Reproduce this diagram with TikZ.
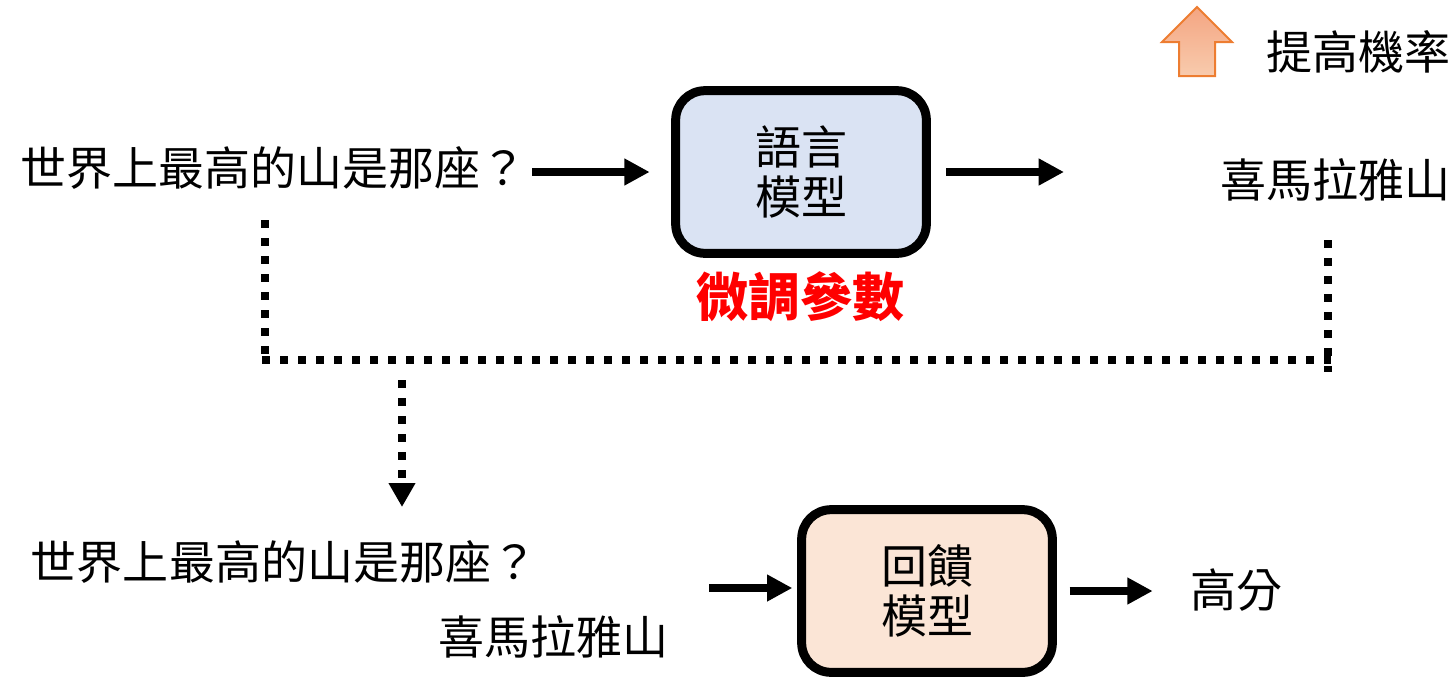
\documentclass[tikz,border=0pt]{standalone}
\usepackage{fontspec}
\newfontfamily\cjk{Noto Sans CJK TC}
\usetikzlibrary{arrows.meta}
\definecolor{lmfill}{HTML}{DAE3F3}
\definecolor{fbfill}{HTML}{FBE5D6}
\definecolor{orngline}{HTML}{ED7D31}
\definecolor{orngtop}{HTML}{F4A582}
\definecolor{orngbot}{HTML}{F8CBAD}
\definecolor{redtxt}{HTML}{FF0000}
\begin{document}
\begin{tikzpicture}[x=0.75pt,y=-0.75pt,
  txt/.style={inner sep=0pt, outer sep=0pt, font=\cjk\fontsize{34.5pt}{37.5pt}\selectfont},
  modelbox/.style={txt, draw=black, line width=6.75pt, rounded corners=22pt,
    minimum width=188pt, minimum height=122pt, align=center},
  arr/.style={line width=6pt, -{Triangle[length=19pt,width=19pt]}},
  dots/.style={line width=5.8pt, dash pattern=on 5.8pt off 7.7pt},
]
\useasboundingbox (0,0) rectangle (1452,686);
% top row
\node[txt] (q1) at (273,168) {世界上最高的山是那座？};
\node[modelbox, fill=lmfill] (lm) at (801,172) {語言\\模型};
\node[txt] (ans1) at (1335,180) {喜馬拉雅山};
\node[txt] (rate) at (1358,52) {提高機率};
\node[txt, font=\cjk\bfseries\fontsize{39pt}{40pt}\selectfont, text=redtxt] (tune) at (800,297) {微調參數};
% orange up arrow
\draw[orngline, line width=1.5pt, top color=orngtop, bottom color=orngbot]
  (1197,7) -- (1232,42) -- (1215,42) -- (1215,76) -- (1179,76) -- (1179,42) -- (1162,42) -- cycle;
% arrows top
\coordinate (a1) at (532,172);
\coordinate (a2) at (1064,172);
\draw[arr, shorten >=19.5pt] (a1) -- (a1 -| lm.west);
\draw[arr, shorten <=15pt] (a2 -| lm.east) -- (a2);
% dotted connectors
\coordinate (d1) at (265,220);
\coordinate (d2) at (265,360);
\coordinate (d3) at (262,360);
\coordinate (d4) at (1331,360);
\coordinate (d5) at (1328,240);
\coordinate (d6) at (1328,372);
\coordinate (d7) at (402,380);
\coordinate (d8) at (402,507);
\draw[dots] (d1) -- (d2);
\draw[dots] (d3) -- (d4);
\draw[dots] (d5) -- (d6);
\draw[dots, -{Triangle[length=18pt,width=19pt]}] (d7) -- (d8);
% bottom row
\node[txt] (q2) at (284,562) {世界上最高的山是那座？};
\node[txt] (ans2) at (553,637) {喜馬拉雅山};
\node[modelbox, fill=fbfill] (fb) at (927,591) {回饋\\模型};
\node[txt] (score) at (1236,590) {高分};
\coordinate (inpt) at (709,588);
\draw[arr, shorten >=7pt] (inpt) -- (inpt -| fb.west);
\draw[arr, shorten <=13pt, shorten >=28pt] (fb.east) -- (fb.east -| score.west);
\end{tikzpicture}
\end{document}
